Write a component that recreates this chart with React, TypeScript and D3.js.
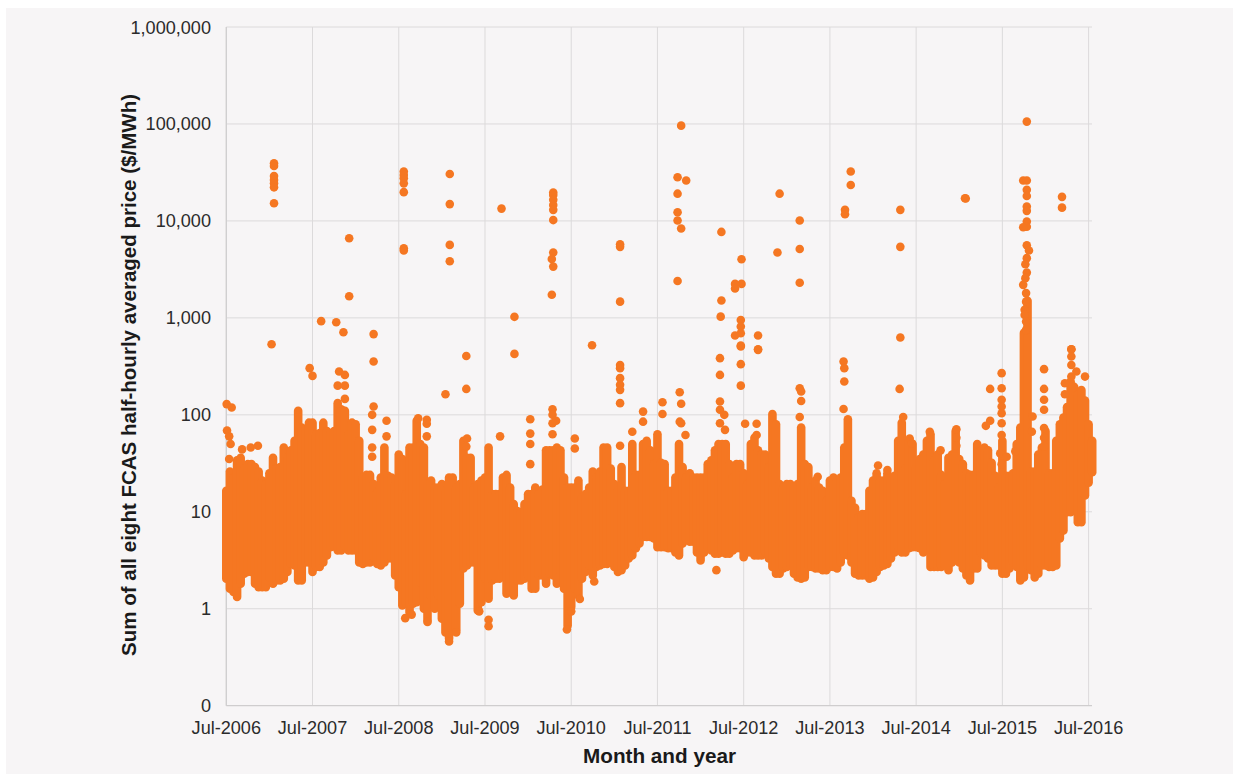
import React from "react";
import * as d3 from "d3";

// Axis labels
const yearLabels = ["Jul-2006","Jul-2007","Jul-2008","Jul-2009","Jul-2010","Jul-2011","Jul-2012","Jul-2013","Jul-2014","Jul-2015","Jul-2016"];
const priceTicks = [0.1, 1, 10, 100, 1000, 10000, 100000, 1000000];
const priceLabels = ["0","1","10","100","1,000","10,000","100,000","1,000,000"];

// Densely overplotted band: highest / lowest dot in each half-month window
const bandHigh = [
16.5,26,22.6,34,36,28,31,31,29,26,21,19.3,25,36,28,29,46,36,43,54,110,74,71,83,83,63,65,83,68,65,68,124,114,110,63,83,80,54,22.6,24,24,
19.3,16,22.6,46,23.5,22.6,19.3,39,35,15.2,46,46,87,50,46,19.3,21,17.8,17.8,19.3,16.5,22.6,22.6,17.8,19.3,54,36,36,17.8,19.3,
21,22.6,46,15.2,15.2,15.2,22.6,24,17.8,12,10.2,9.9,12,15.2,15.2,17.8,15.2,17,43,43,43,46,43,22.6,17.8,17.8,17.8,21,14,15.2,17.8,26,22.6,26,46,46,28,19.3,16.5,29,16.5,16.5,50,24,24,50,54,43,31,63,32,31,16.5,16.5,22.6,50,29,22.6,25,22.6,22.6,22.6,22.6,31,34,43,50,50,50,31,22.6,31,31,25,19.3,50,58,43,
39,39,29,102,80,19.3,17.8,19.3,19.3,17.8,19.3,74,31,29,17.8,21,17.8,16.5,13,21,22.6,21,22.6,46,90,13,11,8.7,9.5,9.5,16.5,21,25,21,21,25,21,23.5,54,83,28,54,50,29,35,39,54,63,34,39,24,19.3,36,39,68,35,31,25,24,24,50,43,46,43,32,23.5,17.8,54,23.5,23.5,25,50,74,700,1500,26,26,39,46,68,25,25,54,80,94,120,220,194,163,180,140,80,54,
];
const bandLow = [
2.04,1.61,1.49,1.32,1.81,2.3,2.4,2.4,1.81,1.67,1.67,1.67,2.1,1.81,1.96,1.96,2.04,2.4,2.9,2.8,1.96,1.96,3,3,2.4,2.7,2.7,3,3.55,4.3,4.4,4,4,4.5,4,4,4,3,2.9,3,3,
3.4,2.9,2.8,3,3.3,3.3,2.2,1.67,1.08,1.13,0.92,1.13,1.17,1.88,1,0.76,1.32,1,1.37,0.79,0.57,0.49,0.6,0.6,1.13,2.6,2.8,3,3,0.96,
1.17,2.04,1.27,1.96,2.04,2.04,2.6,1.43,1.49,1.37,1.96,1.96,2.04,2.2,1.61,1.61,2.2,2.2,1.81,2.3,2.2,1.81,2.4,1.61,0.67,1.04,1.61,1.37,2.04,2.4,2.8,2.2,2.7,2.8,2.9,2.9,3,2.7,2.4,2.5,2.8,3.3,3.55,4.2,4.7,5.5,5.5,5.5,5.3,4.3,4.3,4.3,4.2,4.2,3.8,3.55,4.7,5.1,4.9,4.9,3.8,3.15,3.8,4.2,4,3.7,3.7,3.8,3.7,3.7,4,4.2,4.2,3.4,3.8,3.8,3.55,3.55,
3.55,3.8,3.3,2.7,2.3,2.3,2.6,2.7,2.8,2.3,2.1,2.04,2.1,2.7,2.7,2.6,2.6,2.5,2.5,2.7,2.7,2.6,3,3.7,3.55,3,2.3,2.2,2.2,2.2,2.04,2.1,2.4,2.7,2.8,2.9,3.3,3.8,4.3,3.8,3.8,4.2,4.3,4.3,4.2,3.8,4.2,2.7,2.7,2.7,2.7,2.8,2.5,3,3.3,3,2.6,2.2,1.96,2.6,2.6,3.8,3.55,3.3,2.8,2.8,2.8,2.3,2.3,2.6,3,2.7,1.96,2.1,2.8,2.5,2.1,2.3,2.8,2.8,2.7,2.7,2.8,5.3,6.4,9.9,9.9,13.6,7.8,7.8,14.7,20,25.6,
];

// Individually visible dots outside the band
const dotMonths = [
6.64,6.64,6.64,6.64,6.64,6.64,6.64,17.1,17.1,24.7,24.7,24.7,24.7,24.7,24.7,24.7,31.1,31.1,31.1,31.1,38.3,40.1,40.1,
45.5,45.5,45.5,45.5,45.5,45.5,45.5,45.3,45.5,45.3,54.8,54.8,54.8,13.2,15.3,16.3,20.5,6.3,50.9,
63.3,62.8,62.8,62.8,62.8,62.8,64,63.3,68.9,68.9,68.8,71.7,71.7,70.8,70.8,71.6,71.6,71.6,71.6,70.8,74,74,77,79.8,79.8,79.8,76.7,86.1,86.1,86.9,86.9,93.8,93.8,93.8,102.8,102.9,
111.4,110.9,111.4,111.4,111.4,111.4,111.4,111.4,111.4,110.9,111.4,111.7,111.4,111.2,111.4,111.2,110.9,111.3,111.3,111.1,111.1,111.3,111.3,116.3,116.3,117.6,
0.05,0.75,0.1,0.4,0.6,3.4,4.4,2.2,0.4,11.6,12,15.7,16.5,15.5,16.5,16.5,15.5,20.5,20.5,20.3,20.3,20.3,20.3,22.3,22.3,33.4,30.5,33.4,33.5,33.4,26.7,27.9,27.9,27.9,
24.9,25.8,28,31,32,36.5,36.5,35.2,47.4,48,49.2,51.2,68.2,
38.1,42.3,42.3,42.3,42.3,45.4,45.4,45.9,45.4,45.4,48.5,48.5,54.8,54.8,54.8,54.8,54.8,54.8,54.8,58,58,60.7,60.7,63.1,63.3,63.1,63.3,63.9,56.5,68.7,68.7,68.7,68.7,69.3,68.7,69.4,71.6,71.6,71.6,74,72.2,73.8,73.8,
79.8,80,80,79.8,85.9,86,86,85.9,93.7,94.2,107.9,107.9,106.3,107.9,107.9,107.9,107.9,107.9,106.3,105.7,113.8,113.8,113.8,113.8,113.8,113.8,113.8,
117.6,117.6,117.6,119.5,116.7,116.7,117.6,118.3,101.6,101.6,101.6,97.9,95.1,95.4,99.4,90.7,92,82.3,107.7,108.6,107.9,112.2,112.1,109.8,
];
const dotPrices = [
39300,36900,29100,26500,24400,22200,15200,6630,1670,32300,29800,27500,24400,19800,5220,4950,30500,14900,5660,3840,13400,1025,425,
19600,18500,16500,14600,13000,10200,4720,4050,3380,1730,5750,5400,1470,925,900,710,680,535,522,
96100,28200,19100,12300,10100,2400,26100,8340,7700,1510,1030,4030,2240,2240,2010,950,815,695,506,658,658,475,19100,10100,5140,2300,4720,13000,11700,32300,23500,13000,5400,627,17100,17000,
105700,26100,26100,20900,18100,14100,12700,9850,8700,8600,5600,4950,4130,3570,2930,2570,2190,1800,1470,1210,1070,917,752,17700,13700,475,
129,119,69,60,50,46,48,44,35,303,252,280,258,200,200,146,132,355,122,100,70,46,37,87,60,405,163,185,57,47,92,89,81,60,
0.8,0.87,0.73,0.46,0.57,0.77,0.66,0.94,0.61,0.94,1.26,1.91,2.5,
60,90,64,50,31,114,100,87,82,63,57,45,327,303,239,204,181,132,48,108,85,135,102,171,130,85,82,62,67,384,258,137,113,100,82,70,519,333,200,468,81,81,62,
188,174,139,95,355,303,221,115,185,95,269,188,185,143,122,104,82,62,87,77,296,185,143,113,73,58,47,
475,400,327,248,212,163,248,280,71,58,48,67,57,51,43,30,27,23,40,37,31,96,67,42,
];

const WIDTH = 1233, HEIGHT = 774;
const ORANGE = "#f57722";
const GRID = "#dcdadb";
const PANEL = "#f7f5f6";
const TEXT = "#2b2b2b";
const DOT_R = 4.3;
const FONT = "'Liberation Sans', Arial, sans-serif";

export default function App() {
  const x = d3.scaleLinear().domain([0, 120]).range([226.3, 1088.6]);
  const y = d3.scaleLog().domain([0.1, 1000000]).range([705.7, 27]);
  const plotRight = 1092;
  const halfMonths = d3.range(bandHigh.length).map((i) => i / 2);

  return (
    <svg width={WIDTH} height={HEIGHT} style={{ position: "absolute", left: 0, top: 0 }} fontFamily={FONT}>
      <rect x={0} y={0} width={WIDTH} height={HEIGHT} fill="#ffffff" />
      <rect x={6} y={8} width={WIDTH - 6} height={HEIGHT - 8} fill={PANEL} />
      {priceTicks.map((t, i) => (
        <g key={t}>
          {i > 0 && <line x1={x(0)} x2={plotRight} y1={y(t)} y2={y(t)} stroke={GRID} strokeWidth={1} />}
          <text x={211} y={y(t)} dy="0.36em" textAnchor="end" fontSize={18.1} fill={TEXT}>{priceLabels[i]}</text>
        </g>
      ))}
      {yearLabels.map((l, i) => (
        <g key={l}>
          <line x1={x(i * 12)} x2={x(i * 12)} y1={27} y2={705.7} stroke={GRID} strokeWidth={1} />
          <text x={x(i * 12)} y={733.5} textAnchor="middle" fontSize={18.1} fill={TEXT}>{l}</text>
        </g>
      ))}
      <line x1={x(0)} x2={plotRight} y1={705.7} y2={705.7} stroke="#cfcdce" strokeWidth={1.2} />
      <line x1={x(0)} x2={x(0)} y1={27} y2={705.7} stroke="#cfcdce" strokeWidth={1.2} />
      {halfMonths.map((m, i) => (
        <line key={i} x1={x(m)} x2={x(m)} y1={y(bandHigh[i])} y2={y(bandLow[i])}
          stroke={ORANGE} strokeWidth={DOT_R * 2} strokeLinecap="round" />
      ))}
      {dotMonths.map((m, i) => (
        <circle key={i} cx={x(m)} cy={y(dotPrices[i])} r={DOT_R} fill={ORANGE} />
      ))}
      <text x={659.5} y={763} textAnchor="middle" fontSize={20} fontWeight="bold" fill="#1a1a1a" textLength={153} lengthAdjust="spacingAndGlyphs">Month and year</text>
      <text transform="translate(136,375) rotate(-90)" textAnchor="middle" fontSize={20} fontWeight="bold" fill="#1a1a1a" textLength={562} lengthAdjust="spacingAndGlyphs">Sum of all eight FCAS half-hourly averaged price ($/MWh)</text>
    </svg>
  );
}
